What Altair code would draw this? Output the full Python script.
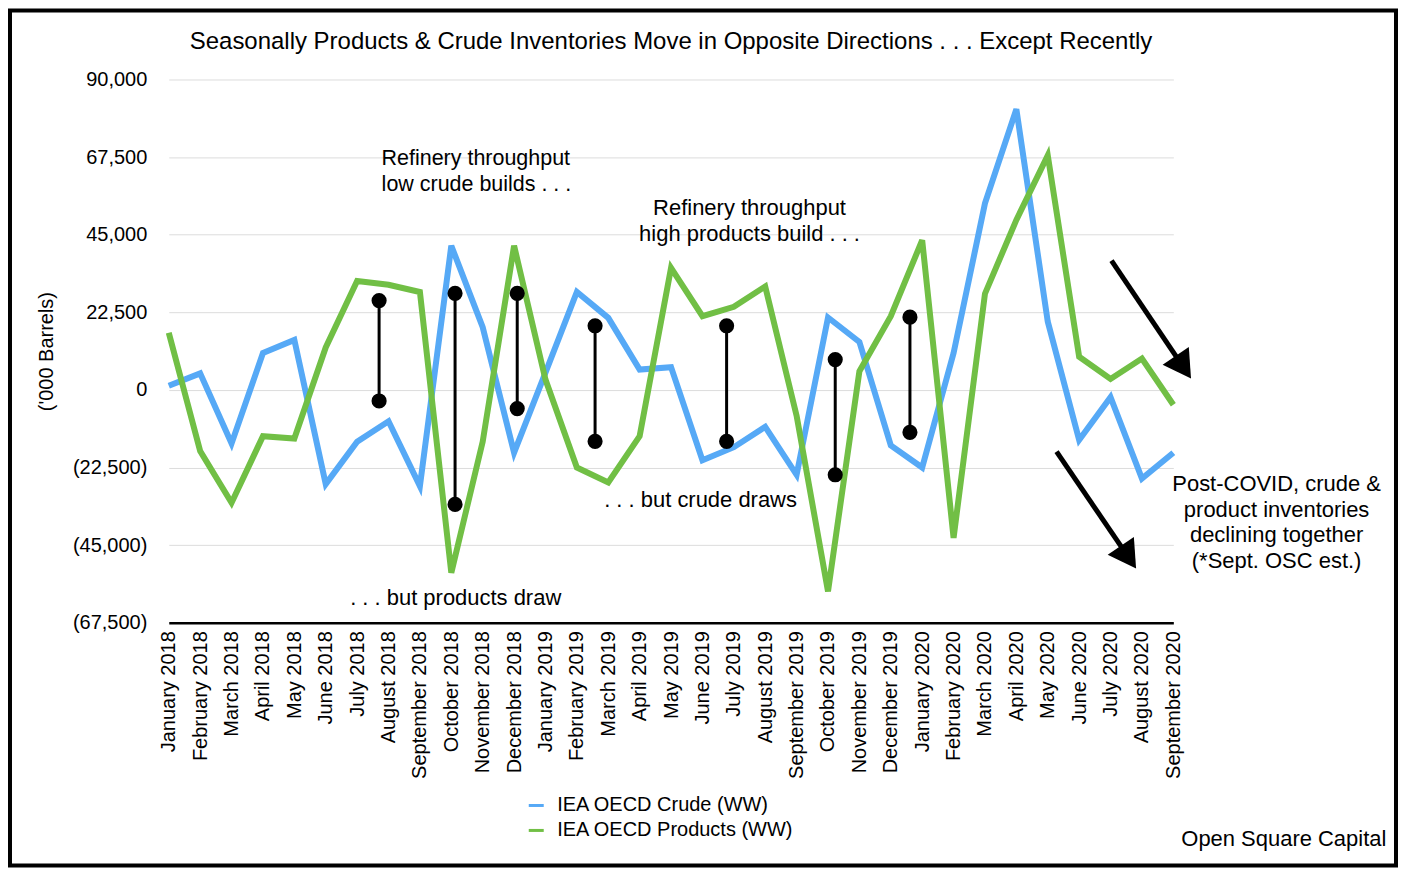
import json
import altair as alt
import pandas as pd

FONT = "Liberation Sans"

months = [
    "January 2018", "February 2018", "March 2018", "April 2018", "May 2018", "June 2018",
    "July 2018", "August 2018", "September 2018", "October 2018", "November 2018", "December 2018",
    "January 2019", "February 2019", "March 2019", "April 2019", "May 2019", "June 2019",
    "July 2019", "August 2019", "September 2019", "October 2019", "November 2019", "December 2019",
    "January 2020", "February 2020", "March 2020", "April 2020", "May 2020", "June 2020",
    "July 2020", "August 2020", "September 2020",
]
crude = [1200, 4800, -15500, 10700, 14500, -27300, -15000, -9100, -27900, 41800, 18200, -18200,
         5000, 28400, 20900, 5900, 6600, -20400, -16600, -10700, -24600, 21000, 13900, -16100,
         -22500, 10700, 54100, 81400, 19800, -14500, -2100, -25700, -18200]
products = [16600, -17700, -32700, -13400, -14100, 12300, 31600, 30500, 28400, -53000, -15000, 41800,
            3000, -22500, -26800, -13400, 35400, 21400, 24100, 30000, -7500, -58400, 5400, 21400,
            43400, -42900, 27900, 49300, 68000, 9600, 3200, 9100, -4300]
series_names = ["IEA OECD Crude (WW)", "IEA OECD Products (WW)"]
series_colors = ["#56A9F6", "#71BF45"]

# dumbbell markers (month index position, top value, bottom value)
bell_x = [6.7, 9.12, 11.1, 13.58, 17.77, 21.23, 23.61]
bell_top = [25900, 28000, 28000, 18600, 18600, 8800, 21100]
bell_bottom = [-3200, -33200, -5400, -14900, -14900, -24600, -12300]

# arrows (start -> head)
arrow_x = [30.03, 28.28]
arrow_y = [37500, -17900]
arrow_x2 = [32.32, 30.57]
arrow_y2 = [6600, -48500]

# annotations
ann_text = ["Refinery throughput", "low crude builds . . .",
            "Refinery throughput", "high products build . . .",
            ". . . but crude draws", ". . . but products draw",
            "Post-COVID, crude &", "product inventories", "declining together", "(*Sept. OSC est.)"]
ann_x = [6.78, 6.78, 18.5, 18.5, 16.94, 9.14, 35.29, 35.29, 35.29, 35.29]
ann_y = [66900, 59400, 52700, 45200, -31800, -60400, -27200, -34700, -42200, -49700]
ann_align = ["left", "left", "center", "center", "center", "center", "center", "center", "center", "center"]

title_text = "Seasonally Products & Crude Inventories Move in Opposite Directions . . . Except Recently"
credit_text = "Open Square Capital"

# ---------------------------------------------------------------------------
rows = []
for name, vals in zip(series_names, [crude, products]):
    for i, v in enumerate(vals):
        rows.append({"idx": i, "value": v, "series": name, "order": series_names.index(name)})
lines_df = pd.DataFrame(rows)
bell_df = pd.DataFrame({"idx": bell_x, "value": bell_top, "value2": bell_bottom})
bell_pts = pd.DataFrame({"idx": bell_x + bell_x, "value": bell_top + bell_bottom})
arrow_df = pd.DataFrame({"idx": arrow_x, "value": arrow_y, "idx2": arrow_x2, "value2": arrow_y2})
head_df = pd.DataFrame({"idx": arrow_x2, "value": arrow_y2})
ann_df = pd.DataFrame({"idx": ann_x, "value": ann_y, "text": ann_text, "align": ann_align})
title_df = pd.DataFrame({"idx": [16], "value": [101000], "text": [title_text]})
credit_df = pd.DataFrame({"idx": [35.52], "value": [-130300], "text": [credit_text]})
frame_df = pd.DataFrame({"a": [0]})

xs = alt.Scale(domain=[0, 32], nice=False, zero=False)
ys = alt.Scale(domain=[-67500, 90000], nice=False, zero=False)

label_expr = json.dumps(months) + "[datum.value]"
x_axis = alt.Axis(values=list(range(33)), labelExpr=label_expr, labelAngle=-90, labelFontSize=20,
                  labelFont=FONT, labelColor="black", ticks=False, grid=False, domainColor="black",
                  domainWidth=2.5, labelPadding=8, title=None, labelOverlap=False, labelBound=False,
                  labelFlush=False)
y_axis = alt.Axis(values=[-67500, -45000, -22500, 0, 22500, 45000, 67500, 90000],
                  labelExpr="datum.value < 0 ? '(' + format(-datum.value, ',') + ')' : format(datum.value, ',')",
                  labelFontSize=20, labelFont=FONT, labelColor="black", ticks=False, domain=False,
                  grid=True, gridColor="#dcdcdc", gridWidth=1, labelPadding=22,
                  title="('000 Barrels)", titleFont=FONT, titleFontSize=20, titleFontWeight="normal",
                  titleColor="black", titleX=-122, titleY=272, titleAngle=-90, titleBaseline="middle",
                  titleAlign="center")


def X(field="idx"):
    return alt.X(field, type="quantitative", scale=xs, axis=x_axis)


def Y(field="value"):
    return alt.Y(field, type="quantitative", scale=ys, axis=y_axis)


frame = alt.Chart(frame_df).mark_rect(filled=False, stroke="black", strokeWidth=4).encode(
    x=alt.value(-159), x2=alt.value(1229), y=alt.value(-69), y2=alt.value(787))

lines = alt.Chart(lines_df).mark_line(strokeWidth=6, strokeJoin="miter", strokeCap="butt").encode(
    x=X(), y=Y(),
    color=alt.Color("series:N", scale=alt.Scale(domain=series_names, range=series_colors),
                    legend=alt.Legend(title=None, orient="none", legendX=358, legendY=717,
                                      symbolType="stroke", symbolSize=225, symbolStrokeWidth=3,
                                      labelFontSize=20, labelFont=FONT, labelColor="black",
                                      labelLimit=1000, rowPadding=5, labelOffset=11, padding=0)),
    order=alt.Order("order:Q"),
    detail="series:N",
)

bells = alt.Chart(bell_df).mark_rule(color="black", strokeWidth=3).encode(
    x=X(), y=Y(), y2="value2")
bell_dots = alt.Chart(bell_pts).mark_point(filled=True, color="black", size=230, opacity=1).encode(
    x=X(), y=Y())

arrows = alt.Chart(arrow_df).mark_rule(color="black", strokeWidth=5).encode(
    x=X(), y=Y(), x2="idx2", y2="value2")
heads = alt.Chart(head_df).mark_point(shape="triangle-up", filled=True, color="black", size=1000,
                                      angle=146, opacity=1).encode(x=X(), y=Y())

ann_left = alt.Chart(ann_df[ann_df["align"] == "left"]).mark_text(
    align="left", baseline="middle", fontSize=21.5, font=FONT, color="black").encode(
    x=X(), y=Y(), text="text:N")
ann_center = alt.Chart(ann_df[ann_df["align"] == "center"]).mark_text(
    align="center", baseline="middle", fontSize=22, font=FONT, color="black").encode(
    x=X(), y=Y(), text="text:N")

title = alt.Chart(title_df).mark_text(align="center", baseline="middle", fontSize=24, font=FONT,
                                      color="black").encode(x=X(), y=Y(), text="text:N")
credit = alt.Chart(credit_df).mark_text(align="center", baseline="middle", fontSize=22, font=FONT,
                                        color="black").encode(x=X(), y=Y(), text="text:N")

chart = alt.layer(frame, lines, bells, bell_dots, arrows, heads, ann_left, ann_center, title, credit).properties(
    width=1006, height=544,
    background="white",
    autosize=alt.AutoSizeParams(type="none"),
    padding={"left": 161, "top": 71, "right": 226, "bottom": 246},
).configure_view(strokeWidth=0, stroke="transparent")

chart.save("out.html", embed_options={"renderer": "svg", "actions": False})
